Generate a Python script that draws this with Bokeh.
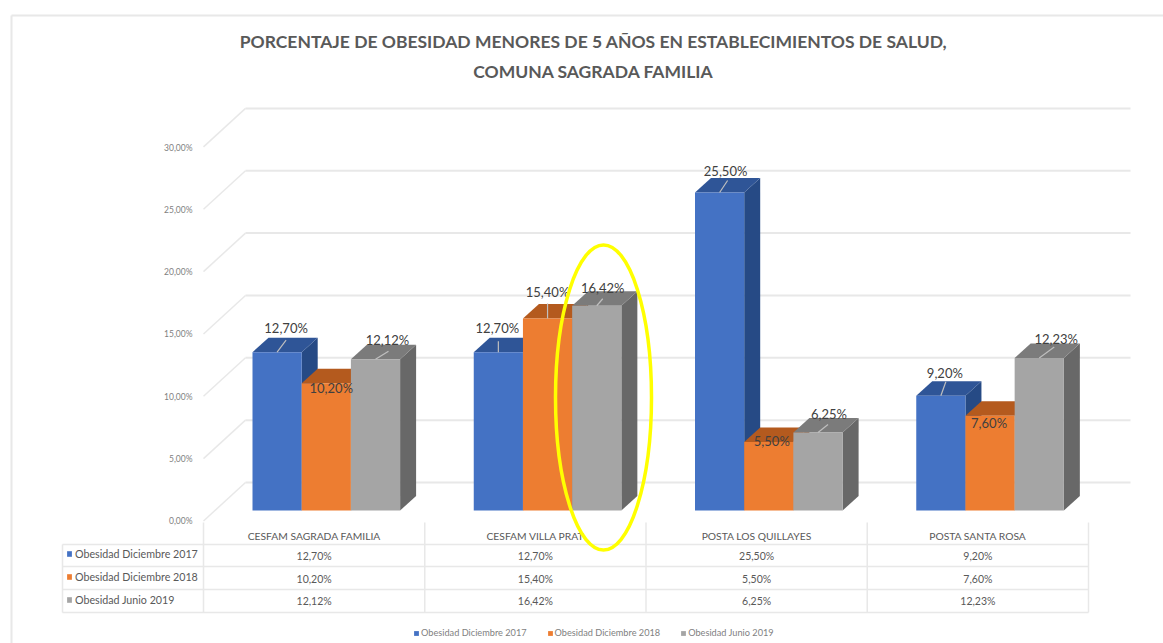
from bokeh.core.properties import value
from bokeh.embed import file_html
from bokeh.models import ColumnDataSource, FixedTicker, Legend, LegendItem, LinearAxis, Range1d
from bokeh.plotting import figure
from bokeh.resources import INLINE

# ---- data
categories = ["CESFAM SAGRADA FAMILIA", "CESFAM VILLA PRAT", "POSTA LOS QUILLAYES", "POSTA SANTA ROSA"]
series_names = ["Obesidad Diciembre 2017", "Obesidad Diciembre 2018", "Obesidad Junio 2019"]
obesidad_dic_2017 = [12.70, 12.70, 25.50, 9.20]
obesidad_dic_2018 = [10.20, 15.40, 5.50, 7.60]
obesidad_jun_2019 = [12.12, 16.42, 6.25, 12.23]
tick_values = [0, 5, 10, 15, 20, 25, 30]
tick_labels = ["0,00%", "5,00%", "10,00%", "15,00%", "20,00%", "25,00%", "30,00%"]
title_lines = ["PORCENTAJE DE OBESIDAD MENORES DE 5 AÑOS EN ESTABLECIMIENTOS DE SALUD,",
               "COMUNA SAGRADA FAMILIA"]
series_values = [obesidad_dic_2017, obesidad_dic_2018, obesidad_jun_2019]

# ---- styles
front_colors = ["#4472C4", "#ED7D31", "#A5A5A5"]
top_colors = ["#2F5597", "#B45A1E", "#7B7B7B"]
side_colors = ["#264A85", "#9A4C18", "#686868"]
FONT = "Lato"
GRID = "#E8E8E8"
TXT = "#595959"

# ---- layout (reference pixels)
W, H = 1163, 643
WALL_L = 203
COL_PX = 221.25
Y_PX = 12.47
BASE_PX = 510
AXIS_BASE_PX, AXIS_PX = 520.5, 12.45
BAR_PX, DEPTH_X_PX, DEPTH_Y_PX = 49.2, 16, 14.5
GROUP_LEFT_PX = 49


def ux(px):
    return (px - WALL_L) / COL_PX


def uy(px):
    return (BASE_PX - px) / Y_PX


def fmt(v):
    return f"{v:.2f}".replace(".", ",") + "%"


bar_w, depth_x, depth_y = BAR_PX / COL_PX, DEPTH_X_PX / COL_PX, DEPTH_Y_PX / Y_PX
group_left = GROUP_LEFT_PX / COL_PX

# per-label pixel offsets from the centre of the bar's front top edge
label_dx = [[9, 5, 12], [-1, 0, 6], [6, 3, 11], [4, -1, 17]]
label_dy = [[-24, 5, -19], [-24, -26, -18], [-22, -1, -19], [-23, 7, -19]]
leader_dx = [[9, 0, 13], [0, 0, 6], [8, 0, 10], [5, 0, 15]]
leader_dy = [[-12, 0, -8], [-11, -15, -7], [-12, 0, -8], [-14, 0, -11]]

p = figure(width=W, height=H, output_backend="svg", toolbar_location=None,
           x_range=Range1d(ux(0), ux(W)), y_range=Range1d(uy(H), uy(0)),
           min_border_left=0, min_border_right=0, min_border_bottom=0, min_border_top=0,
           outline_line_color=None, background_fill_color="white", border_fill_color="white")
p.grid.visible = False
p.xaxis.visible = False
p.yaxis.visible = False

# axis of the front wall: labels are pulled back over the frame
p.extra_y_ranges = {"front": Range1d((AXIS_BASE_PX - H) / AXIS_PX, AXIS_BASE_PX / AXIS_PX)}
axis = LinearAxis(y_range_name="front", ticker=FixedTicker(ticks=tick_values),
                  major_label_overrides=dict(zip(tick_values, tick_labels)),
                  axis_line_color=None, major_tick_line_color=None, minor_tick_line_color=None,
                  major_label_text_font=FONT, major_label_text_font_size="8.5px",
                  major_label_text_color="#7F7F7F", major_label_standoff=-198)
p.add_layout(axis, "left")

# light frame of the chart area
p.segment([ux(11), ux(11)], [uy(15), uy(15)], [ux(W), ux(11)], [uy(15), uy(H)], line_color=GRID, line_width=2)

# title
p.text([ux(593)] * 2, [uy(41), uy(71)], text=title_lines, text_align="center", text_baseline="middle",
       text_font=value(FONT), text_font_style="bold", text_font_size="17.5px", text_color=TXT)

# 3D walls: gridlines on the back wall and diagonals on the side wall
back_y = uy(482)
front_y = uy(AXIS_BASE_PX)
n = len(tick_values)
p.segment([ux(245)] * n, [back_y + t for t in tick_values], [ux(1130)] * n, [back_y + t for t in tick_values],
          line_color=GRID, line_width=2)
p.segment([0] * n, [front_y + t for t in tick_values], [ux(245)] * n, [back_y + t for t in tick_values],
          line_color=GRID, line_width=1.5)

# table lines
row_px = [544, 566, 589, 612]
p.segment([ux(62)] * 4, [uy(r) for r in row_px], [4] * 4, [uy(r) for r in row_px], line_color=GRID, line_width=1.5)
p.segment(list(range(5)), [uy(522)] * 5, list(range(5)), [uy(612)] * 5, line_color=GRID, line_width=1.5)
p.segment([ux(62)], [uy(544)], [ux(62)], [uy(612)], line_color=GRID, line_width=1.5)

# bars: back to front, left to right
legend_renderers = []
for s, vals in enumerate(series_values):
    xc = [i + group_left + bar_w * (s + 0.5) for i in range(len(vals))]
    side_x = [[x + bar_w / 2, x + bar_w / 2 + depth_x, x + bar_w / 2 + depth_x, x + bar_w / 2] for x in xc]
    side_y = [[0, depth_y, v + depth_y, v] for v in vals]
    top_x = [[x - bar_w / 2, x - bar_w / 2 + depth_x, x + bar_w / 2 + depth_x, x + bar_w / 2] for x in xc]
    top_y = [[v, v + depth_y, v + depth_y, v] for v in vals]
    p.patches(side_x, side_y, fill_color=side_colors[s], line_color=None)
    p.patches(top_x, top_y, fill_color=top_colors[s], line_color=None)
    r = p.vbar(x=xc, top=vals, bottom=0, width=bar_w, fill_color=front_colors[s], line_color=None)
    legend_renderers.append(r)

# leader lines and data labels, drawn after all the bars
for s, vals in enumerate(series_values):
    xc = [i + group_left + bar_w * (s + 0.5) for i in range(len(vals))]
    ldx = [leader_dx[i][s] / COL_PX for i in range(4)]
    ldy = [-leader_dy[i][s] / Y_PX for i in range(4)]
    p.segment(xc, vals, [x + d for x, d in zip(xc, ldx)], [v + d for v, d in zip(vals, ldy)],
              line_color="#BFBFBF", line_width=1.2)
    src = ColumnDataSource(dict(x=xc, y=vals, t=[fmt(v) for v in vals],
                                dx=[label_dx[i][s] for i in range(4)], dy=[label_dy[i][s] for i in range(4)]))
    p.text("x", "y", text="t", source=src, x_offset="dx", y_offset="dy", text_align="center",
           text_baseline="middle", text_font=value(FONT), text_font_size="13px", text_color="#404040")

# table texts
p.text([i + 0.5 for i in range(4)], [uy(535)] * 4, text=categories, text_align="center", text_baseline="middle",
       text_font=value(FONT), text_font_size="10.3px", text_color=TXT)
row_text_px = [555, 578, 600]
for vals, ry in zip(series_values, row_text_px):
    p.text([i + 0.5 for i in range(4)], [uy(ry)] * 4, text=[fmt(v) for v in vals],
           text_align="center", text_baseline="middle", text_font=value(FONT), text_font_size="10.5px",
           text_color=TXT)

# highlight ellipse
p.ellipse([ux(603)], [uy(397)], width=96 / COL_PX, height=305 / Y_PX, fill_color=None,
          line_color="#FFFF00", line_width=3.5)

# legends: one in the table's first column, one under the chart
items = [LegendItem(label=name, renderers=[r]) for name, r in zip(series_names, legend_renderers)]
left_legend = Legend(items=items, location=(66, H - 606), orientation="vertical",
                     background_fill_alpha=0, border_line_color=None, margin=0, padding=0, spacing=10,
                     glyph_width=6, glyph_height=7, label_height=12, label_standoff=3,
                     label_text_font=FONT, label_text_font_size="10.7px", label_text_color=TXT)
p.add_layout(left_legend)
items2 = [LegendItem(label=name, renderers=[r]) for name, r in zip(series_names, legend_renderers)]
bottom_legend = Legend(items=items2, location=(413, H - 638), orientation="horizontal",
                       background_fill_alpha=0, border_line_color=None, margin=0, padding=0, spacing=20,
                       glyph_width=6, glyph_height=6, label_height=10, label_standoff=2,
                       label_text_font=FONT, label_text_font_size="9.2px", label_text_color="#7F7F7F")
p.add_layout(bottom_legend)

open("out.html", "w").write(file_html(p, INLINE))
